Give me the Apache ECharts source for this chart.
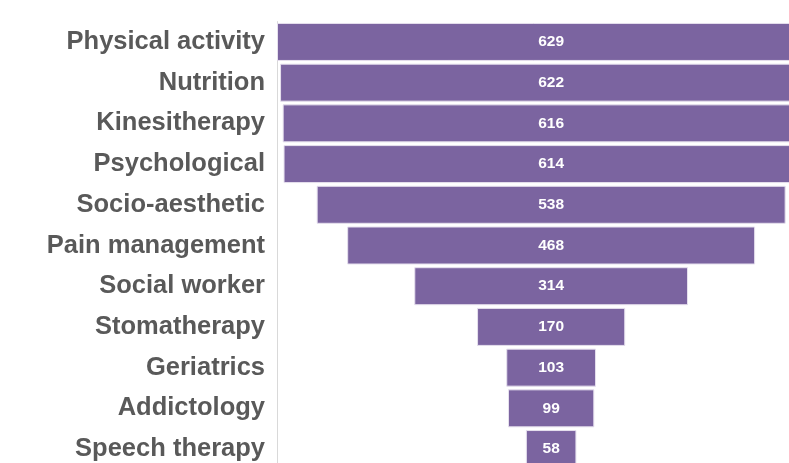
<!DOCTYPE html>
<html>
<head>
<meta charset="utf-8">
<script src="https://cdn.jsdelivr.net/npm/echarts@6/dist/echarts.min.js"></script>
<style>
    html, body { margin: 0; padding: 0; background: #fff; }
    #chart { width: 789px; height: 463px; }
</style>
</head>
<body>
<div id="chart"></div>
<script>
var categories = ['Physical activity', 'Nutrition', 'Kinesitherapy', 'Psychological', 'Socio-aesthetic',
    'Pain management', 'Social worker', 'Stomatherapy', 'Geriatrics', 'Addictology', 'Speech therapy'];
var values = [629, 622, 616, 614, 538, 468, 314, 170, 103, 99, 58];
var maxValue = 629;

// 透明的偏移量，让条形居中形成漏斗
var offsets = values.map(function (v) {
    return (maxValue - v) / 2;
});

var option = {
    animation: false,
    grid: {
        left: 277,
        width: 548.3,
        top: 21.6,
        height: 447.8,
        outerBoundsMode: 'none',
        containLabel: false
    },
    xAxis: {
        type: 'value',
        min: 0,
        max: maxValue,
        show: false
    },
    yAxis: {
        type: 'category',
        inverse: true,
        data: categories,
        axisLine: {
            show: true,
            lineStyle: { color: '#d9d9d9', width: 1 }
        },
        axisTick: { show: false },
        axisLabel: {
            margin: 12,
            color: '#595959',
            fontFamily: 'Liberation Sans',
            fontWeight: 'bold',
            fontSize: 25.5
        }
    },
    series: [{
        type: 'bar',
        stack: 'funnel',
        data: offsets,
        barWidth: 38,
        clip: false,
        itemStyle: { color: 'transparent' },
        silent: true
    }, {
        type: 'bar',
        stack: 'funnel',
        data: values,
        barWidth: 38,
        clip: false,
        itemStyle: {
            color: '#7b64a0',
            borderColor: '#e6e0ee',
            borderWidth: 1
        },
        label: {
            show: true,
            position: 'inside',
            color: '#fff',
            fontFamily: 'Liberation Sans',
            fontWeight: 'bold',
            fontSize: 15.5
        }
    }]
};

//初始化echarts实例
var myChart = echarts.init(document.getElementById('chart'));
myChart.setOption(option);
</script>
</body>
</html>
